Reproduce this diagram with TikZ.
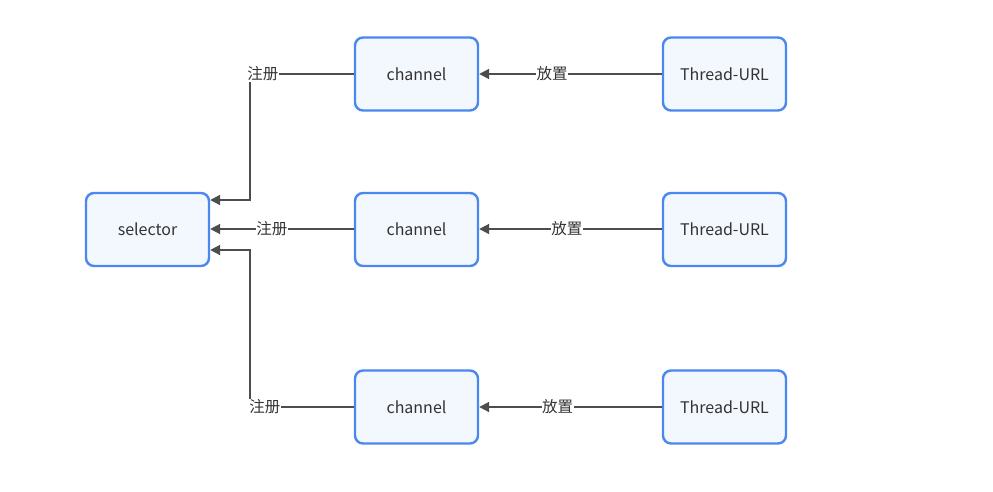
\documentclass[tikz,border=0pt]{standalone}
\usepackage{fontspec}
\setmainfont{Noto Sans CJK SC}
\usetikzlibrary{arrows.meta,calc}
\definecolor{boxborder}{HTML}{4A88F0}
\definecolor{boxfill}{HTML}{F3F7FE}
\definecolor{lineclr}{HTML}{4D4D4D}
\definecolor{txtclr}{HTML}{333333}
\begin{document}
\begin{tikzpicture}[x=1pt,y=-1pt,
  box/.style={draw=boxborder, fill=boxfill, line width=2.4pt, rounded corners=8pt,
    minimum width=123pt, minimum height=73pt, text=txtclr, font=\fontsize{16}{19}\selectfont, inner sep=0pt},
  conn/.style={draw=lineclr, line width=1.9pt, -{Triangle[length=10pt,width=10pt]}},
  lbl/.style={fill=white, text=txtclr, font=\fontsize{15.5}{18}\selectfont, inner sep=0.5pt}]
\useasboundingbox (0,0) rectangle (993,492);
\node[box] (sel) at (147.5,229.5) {selector};
\node[box] (ch1) at (416.5,74) {channel};
\node[box] (ch2) at (416.5,229.5) {channel};
\node[box] (ch3) at (416.5,407) {channel};
\node[box] (th1) at (724.5,74) {Thread-URL};
\node[box] (th2) at (724.5,229.5) {Thread-URL};
\node[box] (th3) at (724.5,407) {Thread-URL};
\coordinate (c1) at (250,74);
\coordinate (c3) at (250,407);
\draw[conn] (th1.west) -- node[lbl,pos=0.6]{放置} (ch1.east);
\draw[conn] ([yshift=0.5pt]th2.west) -- node[lbl,pos=0.52]{放置} ([yshift=0.5pt]ch2.east);
\draw[conn] (th3.west) -- node[lbl,pos=0.57]{放置} (ch3.east);
\draw[conn] (ch1.west) -- node[lbl,pos=0.875]{注册} (c1) |- ($(sel.east)+(0,-29.5)$);
\draw[conn] ([yshift=0.5pt]ch2.west) -- node[lbl,pos=0.57]{注册} ([yshift=0.5pt]sel.east);
\draw[conn] (ch3.west) -- node[lbl,pos=0.856]{注册} (c3) |- ($(sel.east)+(0,20.5)$);
\end{tikzpicture}
\end{document}
